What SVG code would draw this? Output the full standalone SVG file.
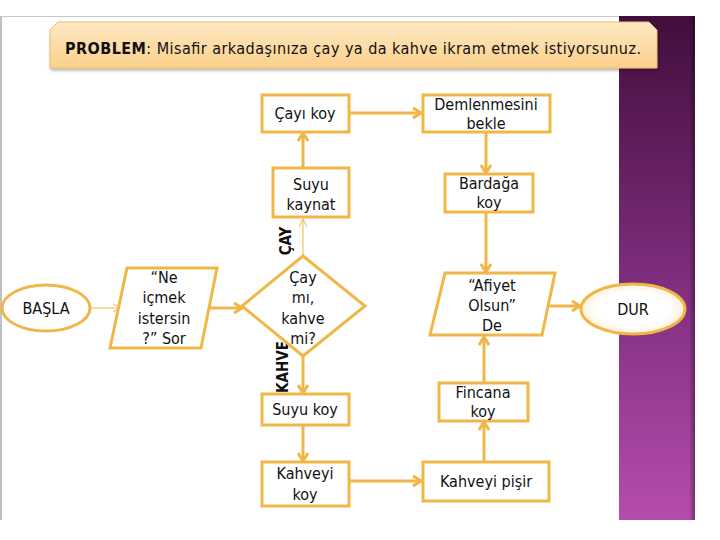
<svg xmlns="http://www.w3.org/2000/svg" width="720" height="540" viewBox="0 0 720 540">
<style>
.nd{fill:#ffffff;stroke:#f1b648;stroke-width:3}
.t{font-family:"DejaVu Sans Condensed","DejaVu Sans",Verdana,sans-serif;font-stretch:condensed;font-size:16px;fill:#111;text-anchor:middle}
.lb{font-family:"DejaVu Sans Condensed","DejaVu Sans",Verdana,sans-serif;font-stretch:condensed;font-size:15px;font-weight:bold;fill:#111;text-anchor:middle}
.c{fill:none;stroke:#f1b648;stroke-width:3}
.cth{fill:none;stroke:#f1b648;stroke-width:1}
</style>
<defs>
<linearGradient id="pur" x1="0" y1="0" x2="0" y2="1">
<stop offset="0" stop-color="#420e3c"/>
<stop offset="0.5" stop-color="#7c2c7a"/>
<stop offset="1" stop-color="#b54cad"/>
</linearGradient>
<linearGradient id="shade" x1="0" y1="0" x2="1" y2="0">
<stop offset="0" stop-color="#000" stop-opacity="0"/>
<stop offset="1" stop-color="#000" stop-opacity="0.35"/>
</linearGradient>
<linearGradient id="peach" x1="0" y1="0" x2="0" y2="1">
<stop offset="0" stop-color="#fee9c2"/>
<stop offset="1" stop-color="#fbd08c"/>
</linearGradient>
<radialGradient id="ivory" cx="0.5" cy="0.5" r="0.5">
<stop offset="0.7" stop-color="#ffffff"/>
<stop offset="1" stop-color="#fdf0d8"/>
</radialGradient>
<filter id="sh" x="-5%" y="-20%" width="110%" height="150%">
<feDropShadow dx="1" dy="2" stdDeviation="1.5" flood-color="#000" flood-opacity="0.3"/>
</filter>
<marker id="ah" viewBox="0 0 10 12" refX="9" refY="6" markerWidth="10" markerHeight="12" markerUnits="userSpaceOnUse" orient="auto">
<path d="M1,1 L9,6 L1,11" fill="none" stroke="#f1b648" stroke-width="3"/>
</marker>
<marker id="aht" viewBox="0 0 8 10" refX="8" refY="5" markerWidth="8" markerHeight="10" markerUnits="userSpaceOnUse" orient="auto">
<path d="M0,1 L8,5 L0,9" fill="none" stroke="#f1b648" stroke-width="1"/>
</marker>
</defs>
<rect x="0" y="0" width="720" height="540" fill="#ffffff"/>
<g id="slide-frame">
<line x1="0" y1="16.5" x2="619" y2="16.5" stroke="#c8c8c8" stroke-width="1"/>
<line x1="1" y1="16" x2="1" y2="520" stroke="#c0c0c0" stroke-width="2"/>
<rect x="619" y="16" width="76" height="504" fill="url(#pur)"/>
<rect x="689" y="16" width="6" height="504" fill="url(#shade)"/>
</g>
<g id="problem">
<path d="M58,22 L649,22 L657,30 L657,68 L50,68 L50,30 Z" fill="url(#peach)" stroke="#eebc6c" stroke-width="1" filter="url(#sh)"/>
<text x="353" y="54" font-family="DejaVu Sans Condensed,DejaVu Sans,Verdana,sans-serif" font-stretch="condensed" font-size="16px" fill="#111" text-anchor="middle" textLength="576" lengthAdjust="spacing"><tspan font-weight="bold">PROBLEM</tspan>: Misafir arkadaşınıza çay ya da kahve ikram etmek istiyorsunuz.</text>
</g>
<g id="connectors">
<path class="cth" d="M90,308 L121,308" marker-end="url(#aht)"/>
<path class="c" d="M209,308 L242,308" marker-end="url(#ah)"/>
<path class="cth" d="M303,256 L303,219" marker-end="url(#aht)"/>
<path class="c" d="M303,168 L303,133" marker-end="url(#ah)"/>
<path class="c" d="M349,113 L421,113" marker-end="url(#ah)"/>
<path class="c" d="M486,132 L486,173" marker-end="url(#ah)"/>
<path class="c" d="M486,212 L486,272" marker-end="url(#ah)"/>
<path class="c" d="M548,306 L580,306" marker-end="url(#ah)"/>
<path class="c" d="M303,356 L303,393" marker-end="url(#ah)"/>
<path class="c" d="M303,425 L303,461" marker-end="url(#ah)"/>
<path class="c" d="M349,481 L421,481" marker-end="url(#ah)"/>
<path class="c" d="M484,462 L484,422" marker-end="url(#ah)"/>
<path class="c" d="M484,383 L484,337" marker-end="url(#ah)"/>
<text class="lb" transform="translate(291,241) rotate(-90)">ÇAY</text>
<text class="lb" transform="translate(288,367) rotate(-90)">KAHVE</text>
</g>
<g id="basla">
<ellipse class="nd" cx="46" cy="308" rx="44" ry="23"/>
<text class="t" x="46" y="314">BAŞLA</text>
</g>
<g id="ne-icmek">
<polygon class="nd" points="127,268 217,268 201,348 110,348"/>
<text class="t" x="164" y="283">“Ne</text>
<text class="t" x="164" y="303">içmek</text>
<text class="t" x="164" y="324">istersin</text>
<text class="t" x="164" y="344">?” Sor</text>
</g>
<g id="karar">
<polygon class="nd" points="303,256 365,306 303,356 242,306"/>
<text class="t" x="303" y="283">Çay</text>
<text class="t" x="303" y="303">mı,</text>
<text class="t" x="303" y="324">kahve</text>
<text class="t" x="303" y="344">mi?</text>
</g>
<g id="suyu-kaynat">
<rect class="nd" x="273" y="168" width="76" height="49"/>
<text class="t" x="311" y="190">Suyu</text>
<text class="t" x="311" y="210">kaynat</text>
</g>
<g id="cayi-koy">
<rect class="nd" x="262" y="95" width="87" height="37"/>
<text class="t" x="305" y="119">Çayı koy</text>
</g>
<g id="demlenmesini">
<rect class="nd" x="423" y="95" width="127" height="37"/>
<text class="t" x="486" y="110">Demlenmesini</text>
<text class="t" x="486" y="129">bekle</text>
</g>
<g id="bardaga">
<rect class="nd" x="445" y="174" width="88" height="38"/>
<text class="t" x="489" y="189">Bardağa</text>
<text class="t" x="489" y="208">koy</text>
</g>
<g id="afiyet">
<polygon class="nd" points="445,273 555,273 542,335 430,335"/>
<text class="t" x="492" y="291">“Afiyet</text>
<text class="t" x="492" y="311">Olsun”</text>
<text class="t" x="492" y="331">De</text>
</g>
<g id="dur">
<ellipse cx="633" cy="309" rx="52" ry="25" fill="url(#ivory)" stroke="#f1b648" stroke-width="3"/>
<text class="t" x="633" y="315">DUR</text>
</g>
<g id="suyu-koy">
<rect class="nd" x="262" y="394" width="87" height="31"/>
<text class="t" x="305" y="415">Suyu koy</text>
</g>
<g id="kahveyi-koy">
<rect class="nd" x="262" y="462" width="87" height="44"/>
<text class="t" x="305" y="479">Kahveyi</text>
<text class="t" x="305" y="500">koy</text>
</g>
<g id="kahveyi-pisir">
<rect class="nd" x="423" y="462" width="126" height="39"/>
<text class="t" x="486" y="487">Kahveyi pişir</text>
</g>
<g id="fincana">
<rect class="nd" x="439" y="383" width="89" height="38"/>
<text class="t" x="483" y="398">Fincana</text>
<text class="t" x="483" y="417">koy</text>
</g>
</svg>
